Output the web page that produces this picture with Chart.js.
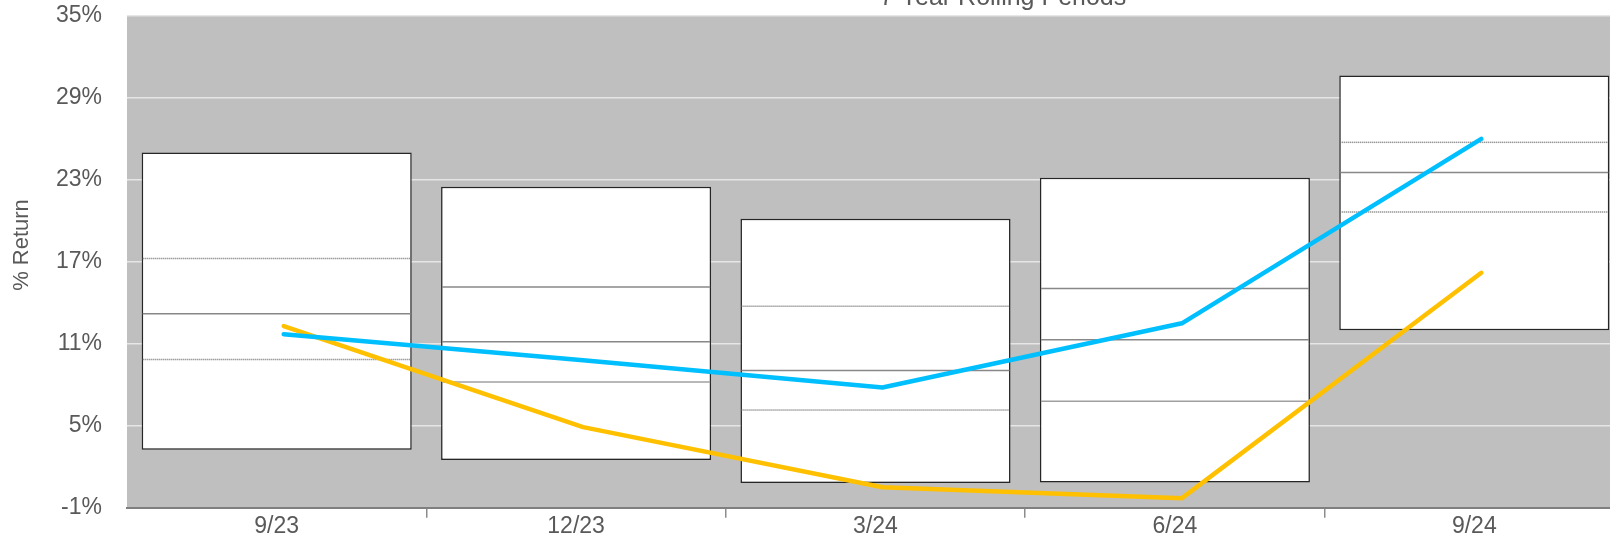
<!DOCTYPE html>
<html>
<head>
<meta charset="utf-8">
<script src="https://cdn.jsdelivr.net/npm/chart.js@4/dist/chart.umd.min.js"></script>
<style>
    html, body { margin: 0; padding: 0; background: #ffffff; overflow: hidden; }
    #wrap { position: relative; width: 1640px; height: 540px; }
</style>
</head>
<body>
<div id="wrap"><canvas id="rollingChart"></canvas></div>
<script>
// quarter ends
const periods = ['9/23', '12/23', '3/24', '6/24', '9/24'];

// range of returns for each period (%)
const rangeHigh = [25.0, 22.5, 20.15, 23.15, 30.65];
const rangeP75 = [17.25, 15.15, 13.75, 15.05, 25.75];
const rangeMedian = [13.2, 11.15, 9.05, 11.3, 23.55];
const rangeP25 = [9.85, 8.2, 6.15, 6.8, 20.65];
const rangeLow = [3.25, 2.5, 0.8, 0.85, 12.0];

// the two tracked series (%)
const portfolioReturn = [11.7, 9.8, 7.8, 12.5, 26.0];
const benchmarkReturn = [12.3, 4.9, 0.5, -0.3, 16.2];

// y axis
const yMin = -1;
const yMax = 35;
const yStep = 6;

const chartTitle = '7 Year Rolling Periods';
const yTitle = '% Return';

const textColor = '#595959';
const fontFamily = '"Liberation Sans", Arial, sans-serif';

// lines sit a little right of the box centres (px)
const lineShiftPx = 7;

// plot background
const plotBackground = {
    id: 'plotBackground',
    beforeDraw(chart) {
        const { ctx, chartArea: a } = chart;
        ctx.save();
        ctx.fillStyle = '#bfbfbf';
        ctx.fillRect(a.left, a.top, a.right - a.left, a.bottom - a.top);
        ctx.restore();
    }
};

// quartile / median lines inside each box, and the shift for the line series
const boxLines = {
    id: 'boxLines',
    beforeDatasetDraw(chart, args) {
        if (args.meta.type !== 'line') return;
        chart.ctx.save();
        chart.ctx.translate(lineShiftPx, 0);
    },
    afterDatasetDraw(chart, args) {
        const ctx = chart.ctx;
        if (args.meta.type === 'line') {
            ctx.restore();
            return;
        }
        const y = chart.scales.y;
        args.meta.data.forEach((bar, i) => {
            const x0 = bar.x - bar.width / 2 + 1;
            const x1 = bar.x + bar.width / 2 - 1;
            const dotted = i % 2 === 0;
            const rows = [
                { v: rangeP75[i], dash: dotted ? [1, 1] : [], color: dotted ? '#707070' : '#888888' },
                { v: rangeMedian[i], dash: [], color: '#888888' },
                { v: rangeP25[i], dash: dotted ? [1, 1] : [], color: dotted ? '#707070' : '#a0a0a0' }
            ];
            ctx.save();
            rows.forEach(r => {
                const py = y.getPixelForValue(r.v);
                ctx.beginPath();
                ctx.setLineDash(r.dash);
                ctx.strokeStyle = r.color;
                ctx.lineWidth = 1.5;
                ctx.moveTo(x0, py);
                ctx.lineTo(x1, py);
                ctx.stroke();
            });
            ctx.restore();
        });
    }
};

// chart title and rotated axis title
const titles = {
    id: 'titles',
    afterDraw(chart) {
        const ctx = chart.ctx;
        ctx.save();
        ctx.fillStyle = textColor;
        ctx.font = '25px ' + fontFamily;
        ctx.textAlign = 'center';
        ctx.textBaseline = 'alphabetic';
        ctx.fillText(chartTitle, 1003, 5);

        ctx.font = '22px ' + fontFamily;
        ctx.translate(22, 245);
        ctx.rotate(-Math.PI / 2);
        ctx.textBaseline = 'middle';
        ctx.fillText(yTitle, 0, 0);
        ctx.restore();
    }
};

const ctx = document.getElementById('rollingChart').getContext('2d');

new Chart(ctx, {
    type: 'bar',
    data: {
        labels: periods,
        datasets: [
            {
                label: 'Range',
                data: rangeLow.map((lo, i) => [lo, rangeHigh[i]]),
                backgroundColor: '#ffffff',
                borderColor: '#262626',
                borderWidth: 1.5,
                borderSkipped: false,
                grouped: false,
                barPercentage: 0.902,
                categoryPercentage: 1.0,
                order: 3
            },
            {
                type: 'line',
                label: 'Portfolio',
                data: portfolioReturn,
                borderColor: '#00bfff',
                borderWidth: 4.5,
                borderCapStyle: 'round',
                borderJoinStyle: 'round',
                pointRadius: 0,
                tension: 0,
                order: 1
            },
            {
                type: 'line',
                label: 'Benchmark',
                data: benchmarkReturn,
                borderColor: '#ffc000',
                borderWidth: 4.5,
                borderCapStyle: 'round',
                borderJoinStyle: 'round',
                pointRadius: 0,
                tension: 0,
                order: 2
            }
        ]
    },
    options: {
        responsive: true,
        maintainAspectRatio: false,
        animation: false,
        layout: { padding: { top: 16, right: 16, left: 0, bottom: 0 } },
        scales: {
            x: {
                type: 'category',
                offset: true,
                afterFit: (scale) => { scale.height = 32.3; },
                border: { display: true, color: '#7f7f7f', width: 2 },
                grid: {
                    offset: true,
                    drawOnChartArea: false,
                    drawTicks: true,
                    tickLength: 10,
                    lineWidth: 1.5,
                    color: (c) => (c.index === 0 || c.index === periods.length) ? 'rgba(0,0,0,0)' : '#8c8c8c'
                },
                ticks: {
                    color: textColor,
                    font: { family: fontFamily, size: 23 },
                    padding: -5,
                    maxRotation: 0
                }
            },
            y: {
                min: yMin,
                max: yMax,
                afterFit: (scale) => { scale.width = 127; },
                border: { display: false },
                grid: {
                    color: '#e6e6e6',
                    lineWidth: 1.5,
                    drawTicks: true,
                    tickLength: 25,
                    tickColor: 'rgba(0,0,0,0)'
                },
                ticks: {
                    stepSize: yStep,
                    color: textColor,
                    font: { family: fontFamily, size: 23 },
                    padding: 0,
                    callback: (v) => v + '%'
                }
            }
        },
        plugins: {
            legend: { display: false },
            tooltip: { enabled: false },
            title: { display: false }
        }
    },
    plugins: [plotBackground, boxLines, titles]
});
</script>
</body>
</html>
